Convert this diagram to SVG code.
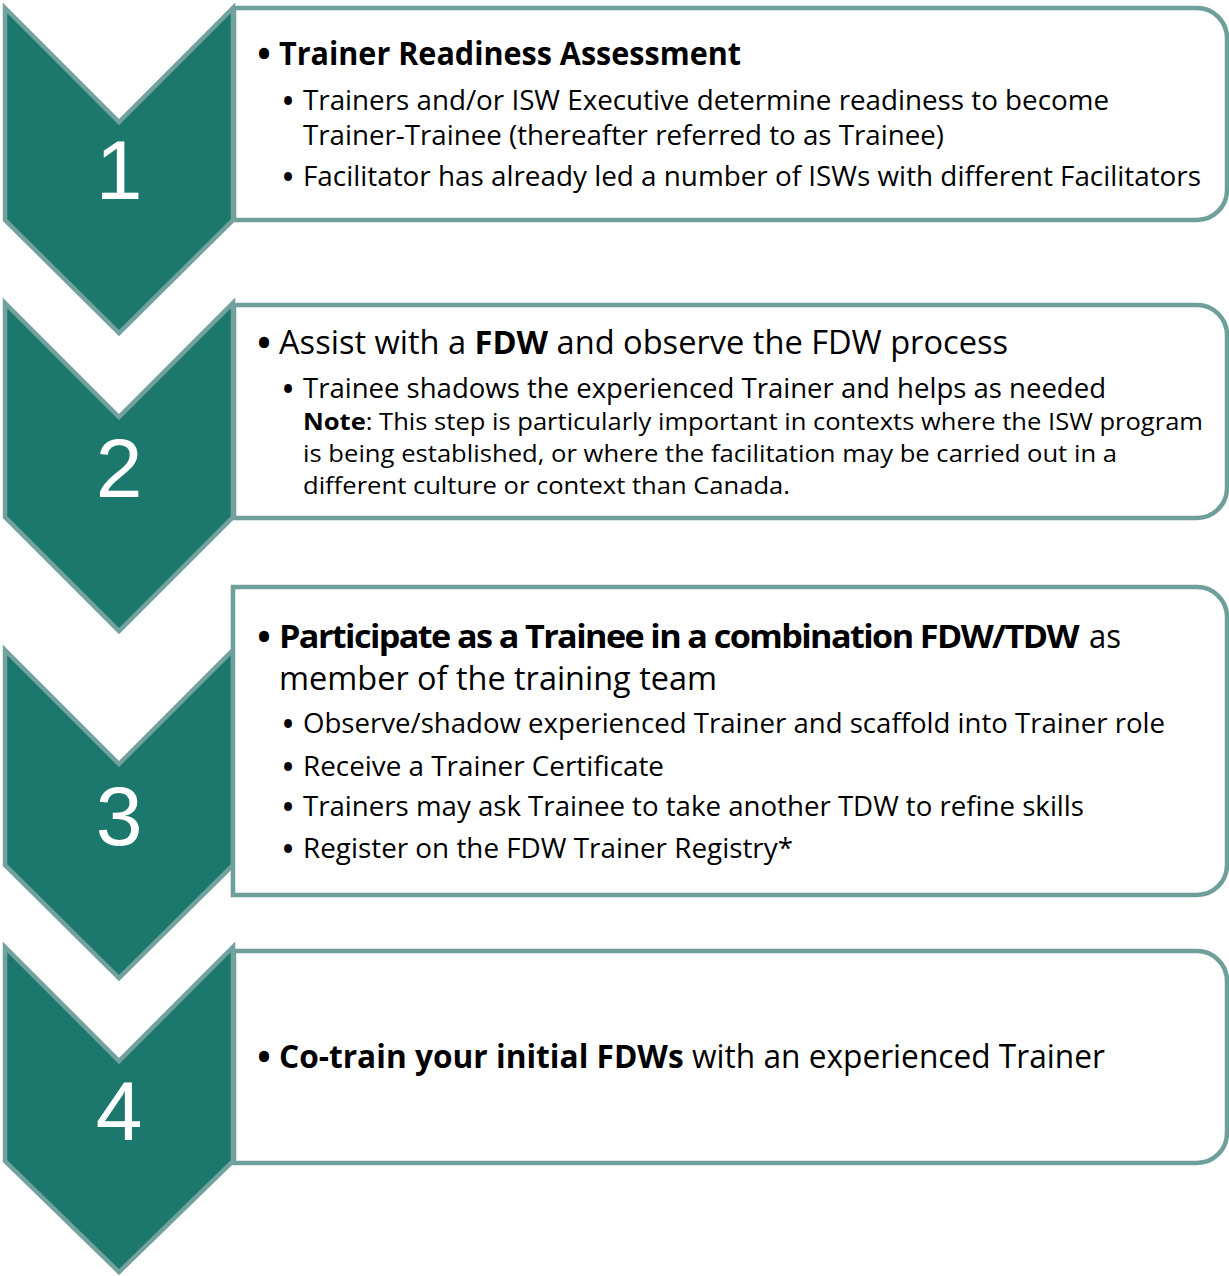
<svg xmlns="http://www.w3.org/2000/svg" width="1229" height="1276" viewBox="0 0 1229 1276">
  <style>
    .box { fill: #ffffff; stroke: #6f9f9b; stroke-width: 4.5; }
    .chev { fill: #1c786d; stroke: #73a29e; stroke-width: 4.5; stroke-linejoin: miter; }
    .num { font-family: "Liberation Sans", Arial, sans-serif; font-size: 84px; fill: #ffffff; text-anchor: middle; }
    .h { font-family: "Open Sans", "Noto Sans", sans-serif; font-size: 32px; fill: #000000; }
    .s { font-family: "Open Sans", "Noto Sans", sans-serif; font-size: 26.5px; fill: #000000; }
    .n { font-family: "Open Sans", "Noto Sans", sans-serif; font-size: 24px; fill: #000000; }
    .b { font-weight: bold; }
    .bh { font-family: "Open Sans", "Noto Sans", sans-serif; font-size: 36px; font-weight: bold; fill: #000000; text-anchor: middle; }
    .bs { font-family: "Open Sans", "Noto Sans", sans-serif; font-size: 28px; font-weight: bold; fill: #000000; text-anchor: middle; }
  </style>
  <g id="connectors"></g>

  <g id="step1">
    <path class="box" d="M234,8 H1197 A30,30 0 0 1 1227,38 V190 A30,30 0 0 1 1197,220 H234 Z"/>
    <polygon class="chev" points="5,8 119,122 233,8 233,220 119,333 5,220"/>
    <text class="num" x="119" y="199">1</text>
    <text class="bh" x="264" y="67">•</text>
    <text class="h b" x="279" y="65" textLength="462" lengthAdjust="spacingAndGlyphs">Trainer Readiness Assessment</text>
    <text class="bs" x="288" y="111">•</text>
    <text class="s" x="303" y="110" textLength="806" lengthAdjust="spacingAndGlyphs">Trainers and/or ISW Executive determine readiness to become</text>
    <text class="s" x="303" y="145" textLength="641" lengthAdjust="spacingAndGlyphs">Trainer-Trainee (thereafter referred to as Trainee)</text>
    <text class="bs" x="288" y="187">•</text>
    <text class="s" x="303" y="186" textLength="898" lengthAdjust="spacingAndGlyphs">Facilitator has already led a number of ISWs with different Facilitators</text>
  </g>

  <g id="step2">
    <path class="box" d="M234,305 H1197 A30,30 0 0 1 1227,335 V488 A30,30 0 0 1 1197,518 H234 Z"/>
    <polygon class="chev" points="5,303 119,417 233,303 233,517 119,631 5,517"/>
    <text class="num" x="119" y="497">2</text>
    <text class="bh" x="264" y="356">•</text>
    <text class="h" x="279" y="354" textLength="729" lengthAdjust="spacingAndGlyphs">Assist with a <tspan class="b">FDW</tspan> and observe the FDW process</text>
    <text class="bs" x="288" y="399">•</text>
    <text class="s" x="303" y="398" textLength="803" lengthAdjust="spacingAndGlyphs">Trainee shadows the experienced Trainer and helps as needed</text>
    <text class="n" x="303" y="430" textLength="900" lengthAdjust="spacingAndGlyphs"><tspan class="b">Note</tspan>: This step is particularly important in contexts where the ISW program</text>
    <text class="n" x="303" y="462" textLength="814" lengthAdjust="spacingAndGlyphs">is being established, or where the facilitation may be carried out in a</text>
    <text class="n" x="303" y="494" textLength="487" lengthAdjust="spacingAndGlyphs">different culture or context than Canada.</text>
  </g>

  <g id="step3">
    <polygon class="chev" points="5,650 119,764 233,650 233,865 119,978 5,865"/>
    <path class="box" d="M233,587 H1197 A30,30 0 0 1 1227,617 V865 A30,30 0 0 1 1197,895 H233 Z"/>
    <text class="num" x="119" y="845">3</text>
    <text class="bh" x="264" y="650">•</text>
    <text class="h" y="648"><tspan class="b" x="279" letter-spacing="-1.5" textLength="799" lengthAdjust="spacingAndGlyphs">Participate as a Trainee in a combination FDW/TDW</tspan><tspan x="1089" textLength="32" lengthAdjust="spacingAndGlyphs">as</tspan></text>
    <text class="h" x="279" y="690" textLength="438" lengthAdjust="spacingAndGlyphs">member of the training team</text>
    <text class="bs" x="288" y="734">•</text>
    <text class="s" x="303" y="733" textLength="862" lengthAdjust="spacingAndGlyphs">Observe/shadow experienced Trainer and scaffold into Trainer role</text>
    <text class="bs" x="288" y="777">•</text>
    <text class="s" x="303" y="776" textLength="361" lengthAdjust="spacingAndGlyphs">Receive a Trainer Certificate</text>
    <text class="bs" x="288" y="817">•</text>
    <text class="s" x="303" y="816" textLength="781" lengthAdjust="spacingAndGlyphs">Trainers may ask Trainee to take another TDW to refine skills</text>
    <text class="bs" x="288" y="859">•</text>
    <text class="s" x="303" y="858" textLength="490" lengthAdjust="spacingAndGlyphs">Register on the FDW Trainer Registry*</text>
  </g>

  <g id="step4">
    <path class="box" d="M234,951 H1197 A30,30 0 0 1 1227,981 V1133 A30,30 0 0 1 1197,1163 H234 Z"/>
    <polygon class="chev" points="5,947 119,1061 233,947 233,1161 119,1272 5,1161"/>
    <text class="num" x="119" y="1140">4</text>
    <text class="bh" x="264" y="1070">•</text>
    <text class="h" x="279" y="1068" textLength="826" lengthAdjust="spacingAndGlyphs"><tspan class="b">Co-train your initial FDWs</tspan> with an experienced Trainer</text>
  </g>
</svg>
